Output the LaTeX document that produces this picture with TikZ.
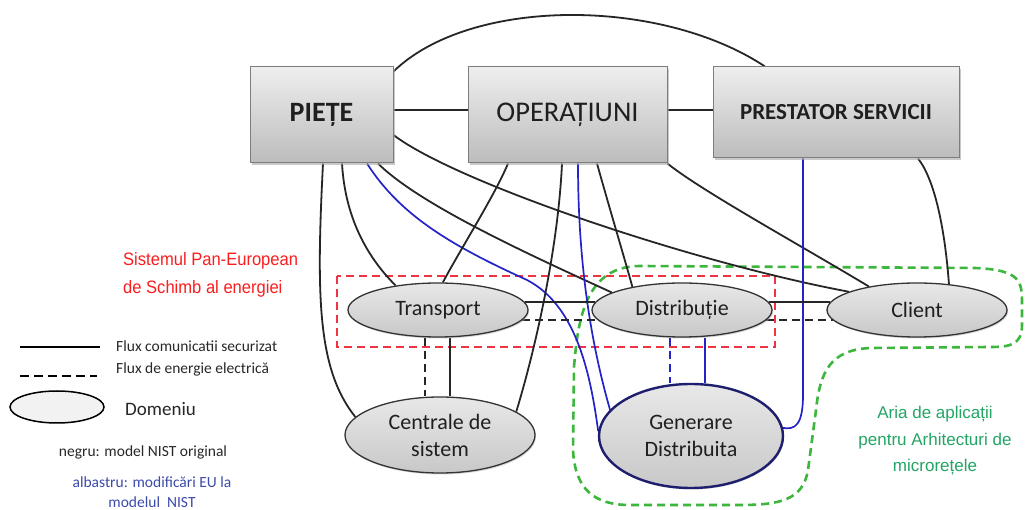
\documentclass[tikz,border=0pt]{standalone}
\usepackage{fontspec}
\setmainfont{Carlito}
\newfontfamily\narrowsans[FakeStretch=0.92]{Liberation Sans}
\newfontfamily\plainsans{Liberation Sans}
\usetikzlibrary{shapes.geometric,shadows,backgrounds}

\definecolor{boxtop}{RGB}{238,238,238}
\definecolor{boxbot}{RGB}{188,188,188}
\definecolor{boxline}{RGB}{125,125,125}
\definecolor{elltop}{RGB}{232,232,232}
\definecolor{ellbot}{RGB}{200,200,200}
\definecolor{linkblue}{RGB}{35,35,200}
\definecolor{navy}{RGB}{30,30,110}
\definecolor{zonered}{RGB}{238,52,64}
\definecolor{zonegreen}{RGB}{60,182,60}
\definecolor{textred}{RGB}{250,30,30}
\definecolor{textgreen}{RGB}{35,165,100}
\definecolor{noteblue}{RGB}{60,75,170}
\definecolor{notegray}{RGB}{40,40,40}

\tikzset{
  domainbox/.style={rectangle, draw=boxline, line width=1pt,
    top color=boxtop, bottom color=boxbot, inner sep=0pt,
    drop shadow={shadow xshift=2pt, shadow yshift=-2pt, fill=gray!70, opacity=.6},
    text=black!88},
  gridzone/.style={ellipse, draw=black!80, line width=1.3pt,
    top color=elltop, bottom color=ellbot, inner sep=0pt,
    drop shadow={shadow xshift=1pt, shadow yshift=-1.5pt, fill=gray!60, opacity=.5},
    font=\fontsize{22}{27}\selectfont, align=center, text=black!88},
  link/.style={line width=1.8pt, black!85},
  energy/.style={link, dash pattern=on 8pt off 5pt},
  eulink/.style={line width=1.7pt, linkblue},
  eudash/.style={eulink, dash pattern=on 8pt off 5pt},
  legendtext/.style={anchor=west, inner sep=0pt, text=notegray,
    font=\fontsize{15.5}{17}\selectfont},
}

\begin{document}
\begin{tikzpicture}[x=1pt, y=-1pt]
  \useasboundingbox (0,0) rectangle (1029,510);

  % top-level domains
  \node[domainbox, minimum width=143pt, minimum height=96pt,
        font=\bfseries\fontsize{28}{30}\selectfont] (piete) at (321.5,115) {PIEȚE};
  \node[domainbox, minimum width=199pt, minimum height=96pt,
        font=\fontsize{28.5}{30}\selectfont] (oper) at (567.5,115) {OPERAȚIUNI};
  \node[domainbox, minimum width=246pt, minimum height=91pt,
        font=\bfseries\fontsize{23}{25}\selectfont] (prest) at (836,112.5) {PRESTATOR SERVICII};

  % grid domains
  \node[gridzone, minimum width=180pt, minimum height=54pt] (trans) at (438,310) {Transport};
  \node[gridzone, minimum width=180pt, minimum height=54pt] (dist) at (682,310) {Distribuție};
  \node[gridzone, minimum width=180pt, minimum height=54pt] (client) at (917,310) {Client};
  \node[gridzone, minimum width=190pt, minimum height=76pt] (centr) at (440,435) {Centrale de\\sistem};
  \node[gridzone, draw=navy, line width=2.4pt, minimum width=184pt, minimum height=104pt]
        (gen) at (691,436) {Generare\\Distribuita};

  \begin{scope}[on background layer]
    \fill[white] (0,0) rectangle (1029,510);

    % zones
    \draw[zonered, line width=2.2pt, dash pattern=on 8pt off 5pt]
      (337,276) rectangle (775,347);
    \draw[zonegreen, line width=2.6pt, dash pattern=on 8pt off 5pt]
      (574,367) .. controls (578,318) and (586,266) .. (640,266)
      -- (975,268) .. controls (1022,270) and (1022,282) .. (1022,305)
      -- (1022,325) .. controls (1022,345) and (1010,347) .. (990,347)
      -- (870,348) .. controls (830,350) and (820,372) .. (816,410)
      -- (808,470) .. controls (803,500) and (780,505) .. (740,505)
      -- (630,505) .. controls (595,505) and (575,490) .. (573,450)
      -- cycle;

    % links between the upper domains
    \draw[link] ([yshift=-5pt]piete.north east)
      .. controls (470,-3) and (660,-3) .. ([xshift=-71pt]prest.north);
    \draw[link] ([yshift=5pt]piete.east) -- ([yshift=5pt]oper.west);
    \draw[link] ([yshift=5pt]oper.east) -- ([yshift=2.5pt]prest.west);

    % links from PIEȚE
    \draw[link] ([xshift=1.5pt]piete.south)
      .. controls (316,300) and (318,370) .. (centr.168);
    \draw[link] ([xshift=20.5pt]piete.south)
      .. controls (345,215) and (365,255) .. (trans.150);
    \draw[link] ([xshift=56.5pt]piete.south)
      .. controls (420,205) and (530,255) .. (dist.166);
    \draw[link] ([yshift=-20pt]piete.east)
      .. controls (455,182) and (690,262) .. (client.165);
    \draw[eulink] ([xshift=45.5pt]piete.south)
      .. controls (400,215) and (450,245) .. (527,280)
      .. controls (575,305) and (590,370) .. (gen.177);

    % links from OPERAȚIUNI
    \draw[link] ([xshift=-59.5pt]oper.south)
      .. controls (495,195) and (460,250) .. (trans.80);
    \draw[link] ([xshift=-5.5pt]oper.south)
      .. controls (558,250) and (535,350) .. (centr.17);
    \draw[link] ([xshift=29.5pt]oper.south)
      .. controls (610,210) and (625,260) .. (dist.155);
    \draw[link] (oper.south east)
      .. controls (700,190) and (800,245) .. (client.154);
    \draw[eulink] ([xshift=10.5pt]oper.south)
      .. controls (578,260) and (590,340) .. (gen.162);

    % links from PRESTATOR SERVICII
    \draw[link] ([xshift=82pt]prest.south)
      .. controls (935,180) and (945,230) .. (client.39);
    \draw[eulink] ([xshift=-33pt]prest.south) -- (803,395)
      .. controls (803,425) and (795,430) .. (gen.5);

    % links among grid domains
    \draw[link] (trans.5) -- (dist.175);
    \draw[link] (dist.5) -- (client.175);
    \draw[energy] (trans.-7) -- (dist.-173);
    \draw[energy] (dist.-7) -- (client.-173);
    \draw[link] ([xshift=12pt]trans.south) -- ([xshift=10pt]centr.north);
    \draw[energy] ([xshift=-13pt]trans.south) -- ([xshift=-15pt]centr.north);
    \draw[eudash] ([xshift=-12pt]dist.south) -- ([xshift=-21pt]gen.north);
    \draw[eulink] ([xshift=23pt]dist.south) -- ([xshift=14pt]gen.north);
  \end{scope}

  % zone captions
  \node[anchor=west, align=left, inner sep=0pt, text=textred,
        font=\narrowsans\fontsize{18}{28}\selectfont] (eucap) at (123,275)
        {Sistemul Pan-European\\de Schimb al energiei};
  \node[align=center, inner sep=0pt, text=textgreen,
        font=\plainsans\fontsize{17}{26.5}\selectfont] (mgcap) at (935,441)
        {Aria de aplicații\\pentru Arhitecturi de\\microrețele};

  % legend
  \coordinate (solidA) at (20,347);
  \coordinate (solidB) at (100,347);
  \draw[link, black] (solidA) -- (solidB);
  \node[legendtext] (solidlbl) at (116,346) {Flux comunicatii securizat};
  \coordinate (dashA) at (20,376);
  \coordinate (dashB) at (97,376);
  \draw[link, black, dash pattern=on 9pt off 5pt] (dashA) -- (dashB);
  \node[legendtext] (dashlbl) at (116,369) {Flux de energie electrică};
  \node[ellipse, draw=black, line width=1.5pt, fill=gray!10, inner sep=0pt,
        minimum width=94pt, minimum height=32pt] (legdom) at (57,407) {};
  \node[legendtext, text=black!85, font=\fontsize{19}{20}\selectfont] (domlbl) at (125,409) {Domeniu};
  \node[inner sep=0pt, text=notegray, font=\fontsize{15.5}{17}\selectfont] (blacknote) at (143,452)
        {negru: model NIST original};
  \node[align=center, inner sep=0pt, text=noteblue, font=\fontsize{15.5}{20}\selectfont] (bluenote) at (152,492)
        {albastru: modificări EU la\\modelul\ \ NIST};
\end{tikzpicture}
\end{document}
